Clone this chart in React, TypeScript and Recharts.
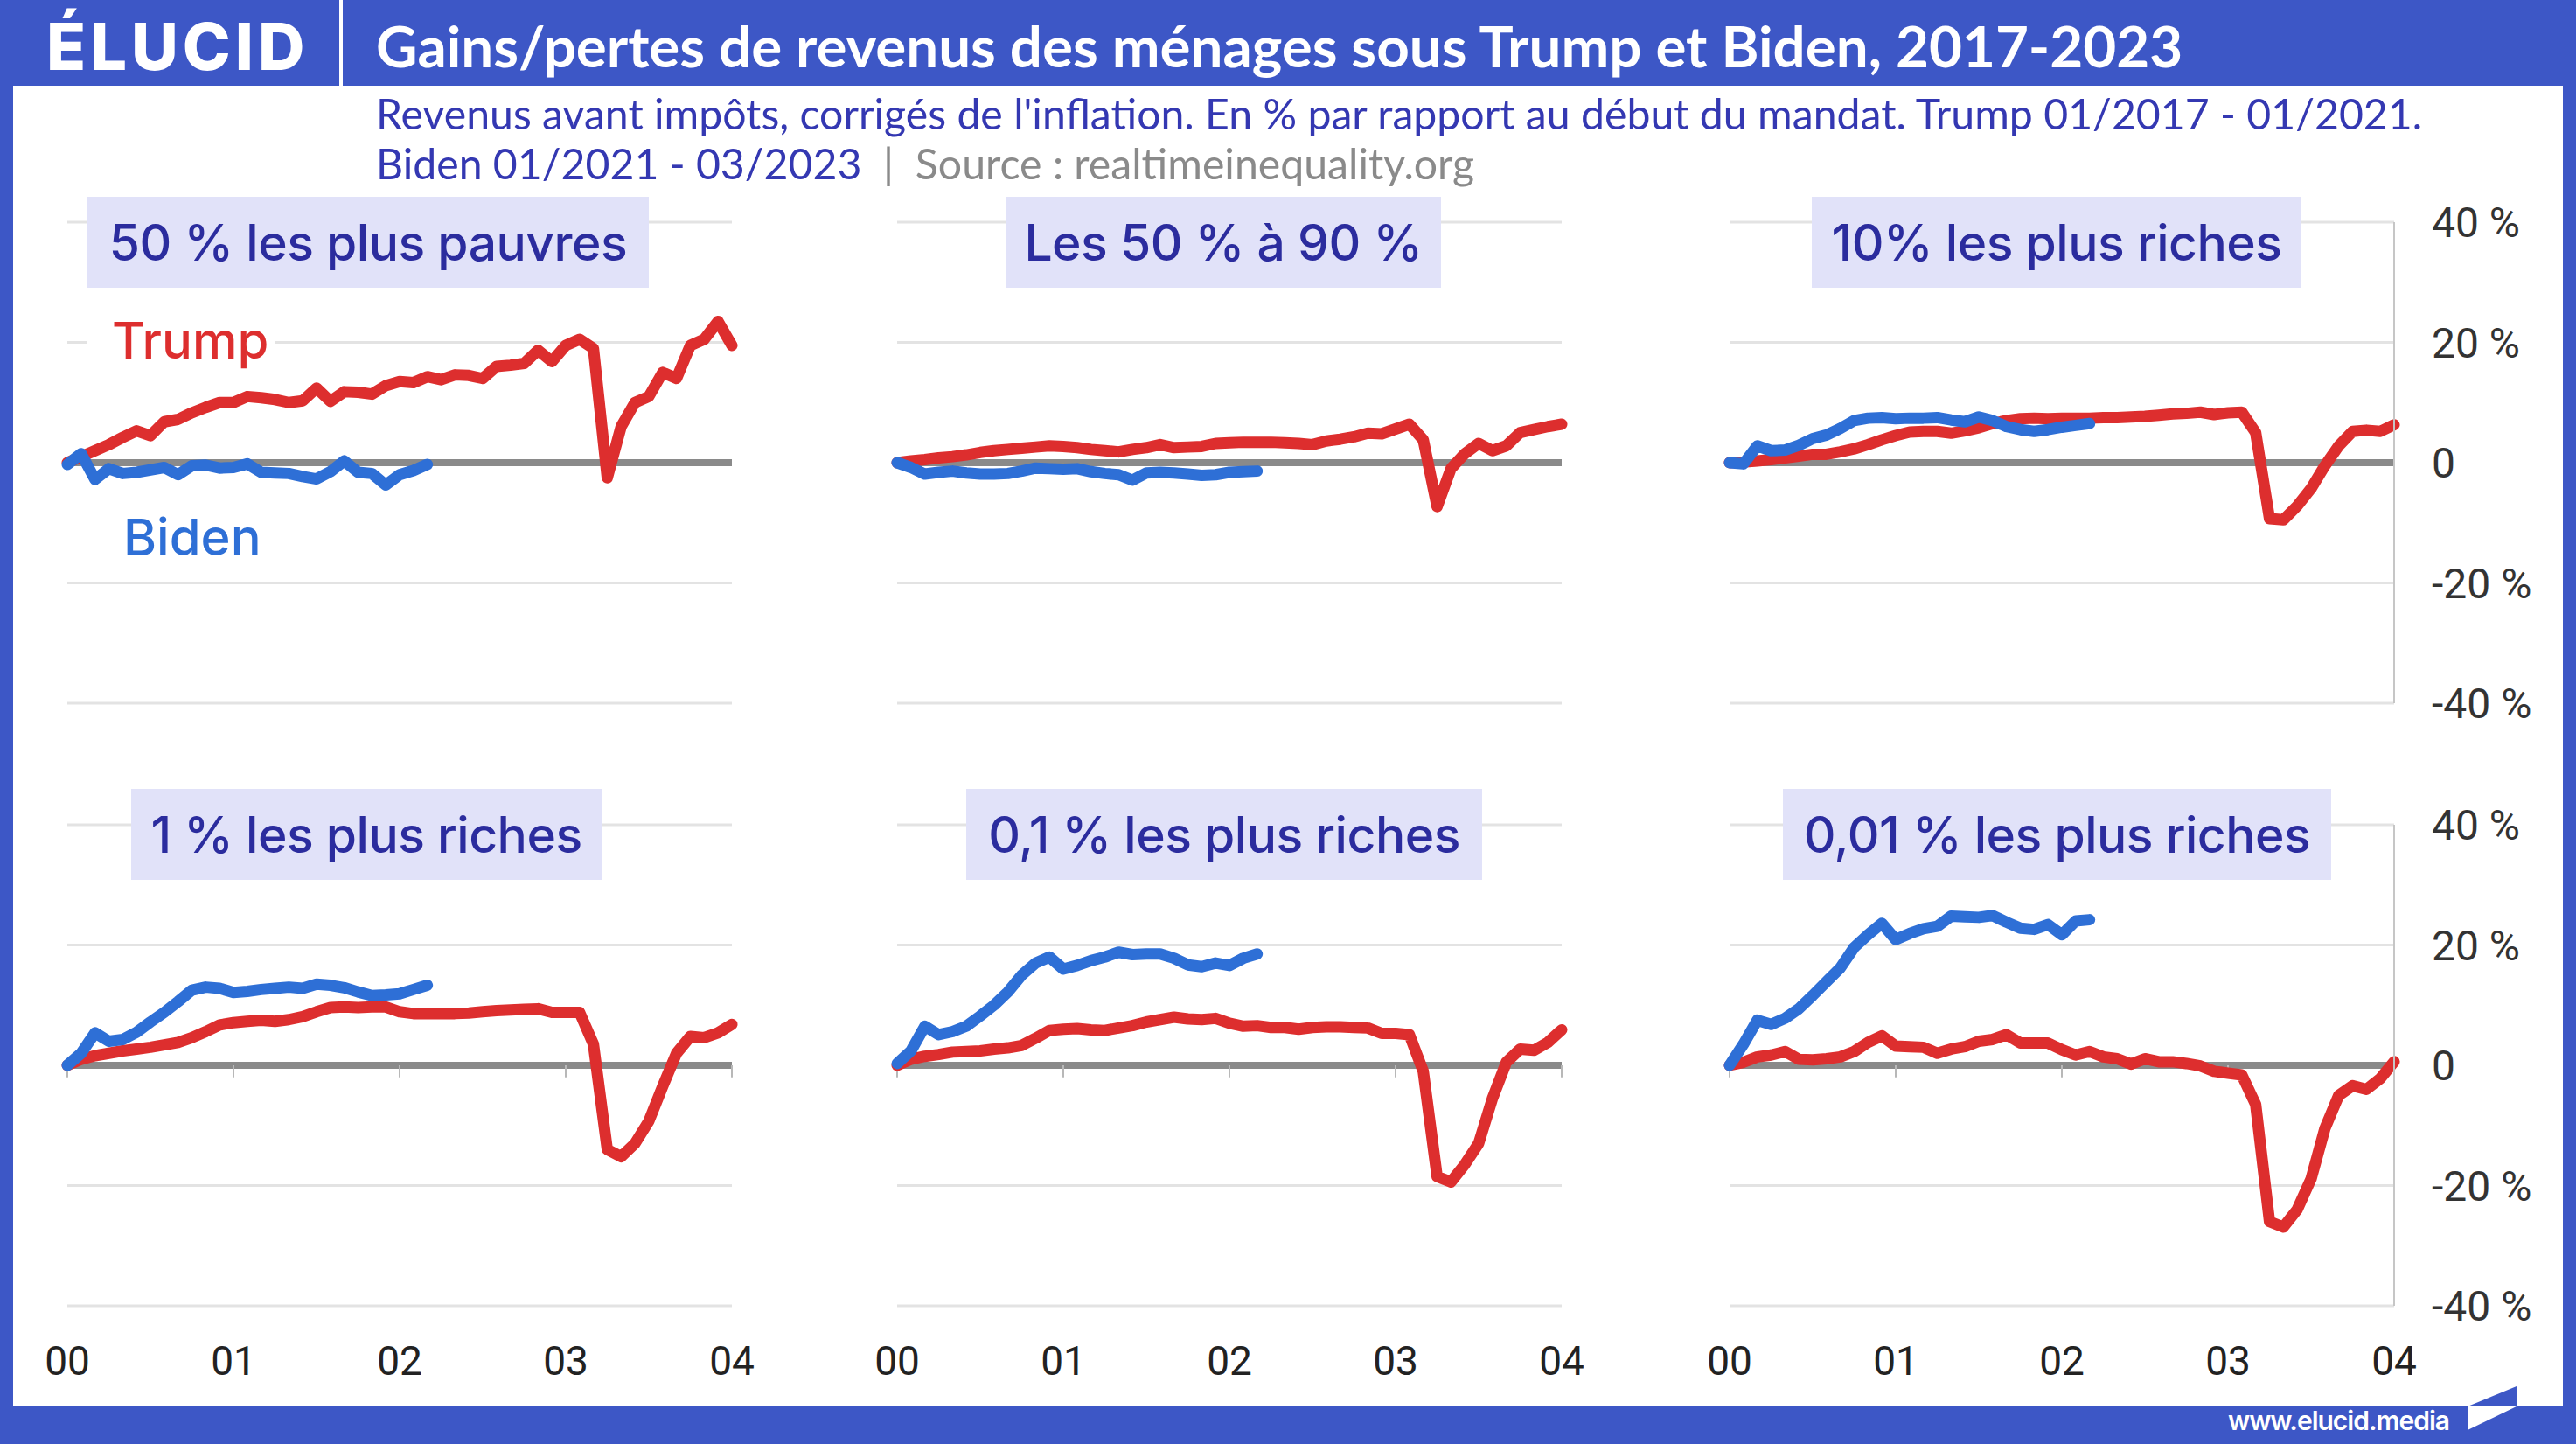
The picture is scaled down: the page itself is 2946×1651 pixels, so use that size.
import { CartesianGrid, Line, LineChart, ReferenceLine, XAxis, YAxis } from 'recharts'

// x axis: months since start of term, one tick per year
const yearTicks = [0, 12, 24, 36, 48]
const yearLabels = ['00', '01', '02', '03', '04']
const pctTicks = [-40, -20, 0, 20, 40]
const pctLabels = ['-40 %', '-20 %', '0', '20 %', '40 %']

// 50 % les plus pauvres
const trumpBottom50 = [
  0, 1, 2, 3, 4.2, 5.3, 4.5, 6.8, 7.2, 8.3, 9.2, 10, 10, 11, 10.8, 10.5, 10, 10.3, 12.4, 10.2,
  11.8, 11.7, 11.4, 12.8, 13.5, 13.3, 14.3, 13.8, 14.6, 14.5, 14, 16, 16.2, 16.5, 18.7, 16.8,
  19.5, 20.5, 19, -2.5, 6, 10, 11, 15, 14, 19.5, 20.5, 23.5, 19.5,
]
const bidenBottom50 = [
  -0.3, 1.5, -2.8, -1, -1.8, -1.6, -1.2, -0.8, -2, -0.5, -0.4, -0.9, -0.8, -0.2, -1.6, -1.7,
  -1.8, -2.3, -2.7, -1.5, 0.3, -1.6, -1.8, -3.7, -2, -1.3, -0.3,
]

// Les 50 % à 90 %
const trumpMiddle40 = [
  0, 0.3, 0.5, 0.8, 1, 1.3, 1.7, 2, 2.2, 2.4, 2.6, 2.8, 2.7, 2.5, 2.2, 2, 1.8, 2.2, 2.5, 3, 2.5,
  2.6, 2.7, 3.2, 3.3, 3.4, 3.4, 3.4, 3.3, 3.2, 3, 3.6, 3.9, 4.3, 4.9, 4.8, 5.6, 6.4, 3.8, -7.3,
  -1, 1.5, 3.2, 2, 2.8, 5, 5.5, 6, 6.4,
]
const bidenMiddle40 = [
  0, -0.8, -1.9, -1.6, -1.4, -1.7, -1.9, -1.9, -1.8, -1.4, -0.9, -1, -1.1, -1, -1.5, -1.8, -2,
  -2.9, -1.7, -1.6, -1.7, -1.9, -2.1, -2, -1.6, -1.5, -1.4,
]

// 10% les plus riches
const trumpTop10 = [
  0, 0.1, 0.3, 0.5, 0.8, 1.1, 1.4, 1.4, 1.8, 2.3, 3, 3.8, 4.5, 5.1, 5.2, 5.2, 4.9, 5.3, 5.8, 6.5,
  7, 7.3, 7.4, 7.3, 7.4, 7.4, 7.4, 7.5, 7.5, 7.6, 7.7, 7.9, 8.1, 8.2, 8.4, 8, 8.3, 8.4, 5,
  -9.3, -9.5, -7.2, -4.3, -0.5, 2.8, 5.2, 5.4, 5.2, 6.3,
]
const bidenTop10 = [
  0, -0.2, 2.8, 2, 2.1, 2.9, 4, 4.6, 5.7, 7, 7.4, 7.5, 7.3, 7.4, 7.4, 7.5, 7.1, 6.8, 7.6, 7, 6,
  5.5, 5.2, 5.5, 5.9, 6.2, 6.5,
]

// 1 % les plus riches
const trumpTop1 = [
  0, 1, 1.6, 2, 2.4, 2.7, 3, 3.4, 3.8, 4.6, 5.6, 6.7, 7.1, 7.3, 7.5, 7.3, 7.6, 8.1, 8.9, 9.6,
  9.7, 9.6, 9.7, 9.7, 8.9, 8.6, 8.6, 8.6, 8.6, 8.7, 8.9, 9.1, 9.2, 9.3, 9.4, 8.8, 8.8, 8.8, 3.5,
  -14, -15.2, -13, -9.3, -3.5, 2, 4.8, 4.6, 5.4, 6.8,
]
const bidenTop1 = [
  0, 2, 5.4, 4, 4.3, 5.5, 7.2, 8.8, 10.6, 12.5, 13, 12.8, 12.1, 12.3, 12.6, 12.8, 13, 12.8,
  13.5, 13.3, 12.9, 12.2, 11.6, 11.7, 11.9, 12.6, 13.3,
]

// 0,1 % les plus riches
const trumpTop01 = [
  0, 1, 1.5, 1.8, 2.2, 2.3, 2.4, 2.7, 2.9, 3.3, 4.5, 5.8, 6, 6.1, 5.9, 5.8, 6.2, 6.6, 7.2, 7.6,
  8, 7.7, 7.6, 7.8, 7, 6.5, 6.6, 6.3, 6.3, 6, 6.3, 6.4, 6.4, 6.3, 6.2, 5.3, 5.3, 5.1, -1, -18.5,
  -19.4, -16.5, -13, -5.5, 0.5, 2.7, 2.5, 3.8, 5.9,
]
const bidenTop01 = [
  0.3, 2.4, 6.5, 5.1, 5.6, 6.5, 8.2, 10, 12.2, 15, 17, 18, 16, 16.6, 17.4, 18, 18.8, 18.4, 18.5,
  18.5, 17.8, 16.7, 16.4, 17, 16.6, 17.8, 18.5,
]

// 0,01 % les plus riches
const trumpTop001 = [
  0, 0.5, 1.4, 1.7, 2.3, 1, 0.9, 1.1, 1.4, 2.3, 3.8, 4.9, 3.2, 3.1, 3, 2, 2.7, 3.1, 4, 4.3, 5.1,
  3.7, 3.7, 3.7, 2.6, 1.7, 2.3, 1.4, 1.1, 0.2, 1.1, 0.6, 0.6, 0.3, -0.1, -1, -1.3, -1.6, -6.5,
  -26, -26.9, -24, -18.9, -10.5, -5, -3.4, -4, -2.2, 0.6,
]
const bidenTop001 = [
  0, 3.5, 7.5, 6.8, 7.8, 9.4, 11.6, 13.9, 16.2, 19.6, 21.7, 23.6, 20.9, 21.9, 22.7, 23.1, 24.8,
  24.7, 24.6, 24.9, 23.8, 22.8, 22.6, 23.4, 21.7, 24, 24.2,
]

const FRAME = '#3d57c6'
const RED = '#dd2e2e'
const BLUE = '#2e6fd6'
const NAVY = '#2b2c9e'
const AXIS_FONT = "'Liberation Sans Narrow', 'Roboto', sans-serif"

const PLOT_W = 760
const PLOT_H = 550
const PAD_TOP = 40
const PAD_BOTTOM = 40
const SIDE = 60

interface PanelProps {
  left: number
  top: number
  trump: number[]
  biden: number[]
  rightAxis?: boolean
  bottomAxis?: boolean
}

function Panel({ left, top, trump, biden, rightAxis = false, bottomAxis = false }: PanelProps) {
  const data = trump.map((t, i) => ({
    m: i,
    trump: t,
    biden: i < biden.length ? biden[i] : null,
  }))
  const rightPad = rightAxis ? 0 : SIDE
  const bottomPad = bottomAxis ? 0 : PAD_BOTTOM
  const width = SIDE + PLOT_W + rightPad + (rightAxis ? 200 : 0)
  const height = PAD_TOP + PLOT_H + bottomPad + (bottomAxis ? 110 : 0)

  return (
    <div style={{ position: 'absolute', left: left - SIDE, top: top - PAD_TOP }}>
      <LineChart
        width={width}
        height={height}
        data={data}
        margin={{ top: PAD_TOP, right: rightPad, bottom: bottomPad, left: SIDE }}
      >
        <CartesianGrid
          vertical={false}
          horizontalValues={[-40, -20, 20, 40]}
          stroke="#e3e3e3"
          strokeWidth={3}
        />
        <CartesianGrid vertical={false} horizontalValues={[0]} stroke="#8a8a8a" strokeWidth={8} />
        <XAxis
          type="number"
          dataKey="m"
          domain={[0, 48]}
          ticks={yearTicks}
          interval={0}
          hide={!bottomAxis}
          height={110}
          axisLine={false}
          tickLine={false}
          tickSize={0}
          tickMargin={46}
          tick={{ fill: '#222', fontSize: 46, fontFamily: AXIS_FONT }}
          tickFormatter={(v) => yearLabels[yearTicks.indexOf(Number(v))]}
        />
        <YAxis
          orientation="right"
          domain={[-40, 40]}
          ticks={pctTicks}
          interval={0}
          hide={!rightAxis}
          width={200}
          axisLine={{ stroke: '#c6c6c6', strokeWidth: 2 }}
          tickLine={false}
          tickSize={0}
          tickMargin={43}
          tick={{ fill: '#333', fontSize: 48, fontFamily: AXIS_FONT, textAnchor: 'start' }}
          tickFormatter={(v) => pctLabels[pctTicks.indexOf(Number(v))]}
        />
        {bottomAxis &&
          yearTicks.map((t) => (
            <ReferenceLine
              key={t}
              segment={[
                { x: t, y: 0 },
                { x: t, y: -2 },
              ]}
              stroke="#b8b8b8"
              strokeWidth={2}
            />
          ))}
        <Line
          type="linear"
          dataKey="trump"
          stroke={RED}
          strokeWidth={13}
          strokeLinejoin="round"
          strokeLinecap="round"
          dot={false}
          activeDot={false}
          isAnimationActive={false}
        />
        <Line
          type="linear"
          dataKey="biden"
          stroke={BLUE}
          strokeWidth={13}
          strokeLinejoin="round"
          strokeLinecap="round"
          dot={false}
          activeDot={false}
          isAnimationActive={false}
        />
      </LineChart>
    </div>
  )
}

function PanelLabel({ text, x, y, w }: { text: string; x: number; y: number; w: number }) {
  return (
    <div
      style={{
        position: 'absolute',
        left: x,
        top: y,
        width: w,
        height: 104,
        background: '#e1e2f9',
        color: NAVY,
        fontFamily: 'Inter, sans-serif',
        fontWeight: 500,
        fontSize: 57,
        letterSpacing: -0.5,
        display: 'flex',
        alignItems: 'center',
        justifyContent: 'center',
        whiteSpace: 'nowrap',
      }}
    >
      {text}
    </div>
  )
}

const cols = [77, 1026, 1978]
const rows = [254, 943]

export default function App() {
  return (
    <div
      style={{
        position: 'relative',
        width: 2946,
        height: 1651,
        background: FRAME,
        overflow: 'hidden',
        fontFamily: 'Lato, sans-serif',
      }}
    >
      <style>{'body { margin: 0; }'}</style>

      {/* header */}
      <div
        style={{
          position: 'absolute',
          left: 53,
          top: 8,
          height: 90,
          lineHeight: '90px',
          color: '#fff',
          fontFamily: 'Inter, sans-serif',
          fontWeight: 800,
          fontSize: 74,
          letterSpacing: 5,
        }}
      >
        ÉLUCID
      </div>
      <div style={{ position: 'absolute', left: 388, top: 0, width: 4, height: 98, background: '#fff' }} />
      <div
        style={{
          position: 'absolute',
          left: 430,
          top: 12,
          height: 80,
          lineHeight: '80px',
          color: '#fff',
          fontWeight: 700,
          fontSize: 65.5,
          whiteSpace: 'nowrap',
        }}
      >
        Gains/pertes de revenus des ménages sous Trump et Biden, 2017-2023
      </div>

      {/* white body */}
      <div
        style={{ position: 'absolute', left: 15, top: 98, width: 2916, height: 1510, background: '#fff' }}
      />

      <div
        style={{
          position: 'absolute',
          left: 430,
          top: 101,
          lineHeight: '57px',
          fontSize: 48.2,
          color: '#3438b2',
          whiteSpace: 'pre',
        }}
      >
        Revenus avant impôts, corrigés de l'inflation. En % par rapport au début du mandat. Trump 01/2017 - 01/2021.
        <br />
        Biden 01/2021 - 03/2023
        <span style={{ color: '#8a8a8a' }}>{'  |  Source : realtimeinequality.org'}</span>
      </div>

      <Panel left={cols[0]} top={rows[0]} trump={trumpBottom50} biden={bidenBottom50} />
      <Panel left={cols[1]} top={rows[0]} trump={trumpMiddle40} biden={bidenMiddle40} />
      <Panel left={cols[2]} top={rows[0]} trump={trumpTop10} biden={bidenTop10} rightAxis />
      <Panel left={cols[0]} top={rows[1]} trump={trumpTop1} biden={bidenTop1} bottomAxis />
      <Panel left={cols[1]} top={rows[1]} trump={trumpTop01} biden={bidenTop01} bottomAxis />
      <Panel left={cols[2]} top={rows[1]} trump={trumpTop001} biden={bidenTop001} rightAxis bottomAxis />

      <PanelLabel text="50 % les plus pauvres" x={100} y={225} w={642} />
      <PanelLabel text="Les 50 % à 90 %" x={1150} y={225} w={498} />
      <PanelLabel text="10% les plus riches" x={2072} y={225} w={560} />
      <PanelLabel text="1 % les plus riches" x={150} y={902} w={538} />
      <PanelLabel text="0,1 % les plus riches" x={1105} y={902} w={590} />
      <PanelLabel text="0,01 % les plus riches" x={2039} y={902} w={627} />

      {/* series labels */}
      <div
        style={{
          position: 'absolute',
          left: 100,
          top: 353,
          width: 215,
          height: 72,
          background: '#fff',
          color: RED,
          fontFamily: 'Inter, sans-serif',
          fontWeight: 500,
          fontSize: 58,
          lineHeight: '72px',
          paddingLeft: 28,
          boxSizing: 'border-box',
        }}
      >
        Trump
      </div>
      <div
        style={{
          position: 'absolute',
          left: 141,
          top: 578,
          color: BLUE,
          fontFamily: 'Inter, sans-serif',
          fontWeight: 500,
          fontSize: 58,
          lineHeight: '72px',
        }}
      >
        Biden
      </div>

      {/* footer */}
      <div
        style={{
          position: 'absolute',
          left: 2548,
          top: 1604,
          lineHeight: '40px',
          color: '#fff',
          fontFamily: 'Inter, sans-serif',
          fontWeight: 600,
          fontSize: 30,
          letterSpacing: -1,
        }}
      >
        www.elucid.media
      </div>
      <svg
        style={{ position: 'absolute', left: 2820, top: 1585 }}
        width={60}
        height={55}
        viewBox="0 0 60 55"
      >
        <polygon points="2,23 58,0 58,23" fill={FRAME} />
        <polygon points="2,23 58,23 2,50" fill="#fff" />
      </svg>
    </div>
  )
}
